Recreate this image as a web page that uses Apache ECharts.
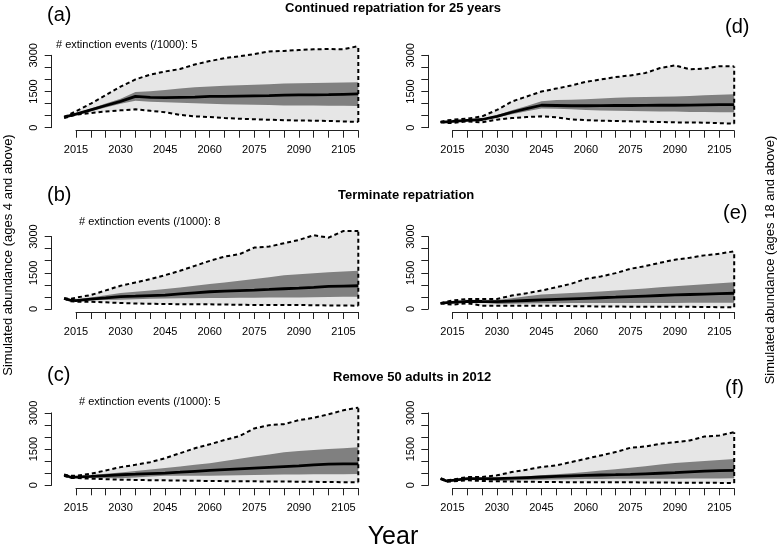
<!DOCTYPE html>
<html><head><meta charset="utf-8">
<script src="https://cdn.jsdelivr.net/npm/echarts@6/dist/echarts.min.js"></script>
<style>html,body{margin:0;padding:0;background:#fff}#c{width:777px;height:552px}</style>
</head><body><div id="c"></div>
<script>
// ---------- data ----------
const years = [2011,2013,2015,2020,2025,2030,2035,2040,2045,2050,2055,2060,2065,2070,2075,2080,2085,2090,2095,2100,2105,2110];
const xTickStart = 2015, xTickEnd = 2110, xTickStep = 5, xLabelStep = 15, xLabelLast = 2105;
const yTickMax = 3000, yTickStep = 500, yLabelStep = 1500;

// (a) Continued repatriation, ages 4+
const aMedian  = [440,500,560,740,920,1090,1300,1260,1250,1260,1270,1300,1300,1310,1320,1330,1350,1360,1360,1370,1385,1400];
const aInnerHi = [460,530,600,800,1000,1200,1480,1510,1560,1620,1680,1710,1740,1760,1780,1800,1830,1840,1850,1860,1870,1880];
const aInnerLo = [420,470,520,680,840,990,1120,1080,1050,1030,1010,990,975,960,950,940,925,920,915,910,905,900];
const aOuterHi = [444,560,680,1000,1350,1700,2000,2200,2330,2430,2620,2760,2880,2960,3050,3160,3180,3220,3250,3260,3250,3380];
const aOuterLo = [403,470,540,610,670,720,760,700,640,530,470,440,400,370,350,330,310,300,290,280,260,240];
// (b) Terminate repatriation, ages 4+
const bMedian  = [440,370,350,413,460,509,530,555,578,625,670,715,740,762,784,810,840,866,900,935,950,963];
const bInnerHi = [450,390,400,480,570,660,715,770,825,890,960,1031,1100,1170,1238,1320,1403,1440,1486,1520,1550,1582];
const bInnerLo = [430,350,330,360,375,385,405,425,440,445,450,454,460,465,468,472,476,481,490,498,505,509];
const bOuterHi = [440,420,470,578,770,963,1100,1238,1403,1582,1788,1995,2173,2270,2545,2586,2724,2861,3054,2957,3232,3232];
const bOuterLo = [440,320,303,303,275,248,230,215,206,200,196,193,185,175,165,165,165,165,155,148,143,138];
// (c) Remove 50 adults in 2012, ages 4+
const cMedian  = [438,342,342,370,405,438,460,485,507,543,580,616,648,680,712,744,776,808,843,877,884,890];
const cInnerHi = [445,360,370,420,475,534,590,650,712,780,850,918,1010,1100,1192,1280,1370,1420,1466,1500,1540,1575];
const cInnerLo = [430,325,320,310,300,288,325,360,397,397,397,397,406,415,425,434,443,452,456,460,463,466];
const cOuterHi = [438,390,397,479,616,753,849,959,1123,1329,1534,1699,1877,2041,2356,2493,2534,2699,2795,2945,3110,3219];
const cOuterLo = [397,301,301,274,255,233,222,212,205,196,187,178,173,168,164,160,155,151,144,137,130,123];
// (d) Continued repatriation, ages 18+
const dMedian  = [230,245,260,300,340,470,640,790,930,920,910,910,915,920,920,925,930,930,935,945,955,960];
const dInnerHi = [240,255,275,320,370,520,720,900,1100,1150,1160,1180,1210,1240,1260,1270,1280,1290,1310,1340,1370,1390];
const dInnerLo = [220,235,245,280,310,420,560,680,800,790,760,736,715,700,694,680,670,667,655,648,642,639];
const dOuterHi = [236,300,330,375,472,736,1083,1292,1500,1620,1750,1900,2000,2097,2167,2264,2472,2580,2420,2450,2550,2540];
const dOuterLo = [236,200,194,264,222,333,400,444,470,430,347,310,292,275,264,250,235,222,215,208,190,167];
// (e) Terminate repatriation, ages 18+
const eMedian  = [236,260,278,320,310,306,330,352,375,398,421,444,467,490,514,537,560,583,600,618,635,653];
const eInnerHi = [240,265,285,330,340,375,450,525,597,630,662,694,730,768,806,852,898,944,985,1027,1069,1111];
const eInnerLo = [232,250,265,300,260,208,217,226,236,241,245,250,250,250,250,250,250,250,254,257,261,264];
const eOuterHi = [236,300,350,417,417,417,556,653,764,903,1042,1250,1347,1486,1667,1778,1917,2042,2125,2222,2292,2389];
const eOuterLo = [236,200,180,236,139,139,139,139,139,130,120,111,105,100,97,97,97,97,90,83,76,69];
// (f) Remove 50 adults in 2012, ages 18+
const fMedian  = [275,179,206,275,275,275,298,321,344,367,390,413,427,440,454,477,500,523,557,591,605,619];
const fInnerHi = [280,190,220,290,300,316,348,380,413,458,504,550,610,670,729,793,858,922,963,1004,1046,1087];
const fInnerLo = [270,170,195,255,230,179,197,215,234,243,252,261,265,268,271,273,274,275,278,282,285,289];
const fOuterHi = [275,200,234,344,344,413,550,646,757,825,963,1100,1238,1376,1554,1609,1719,1788,1857,2022,2063,2201];
const fOuterLo = [275,150,165,206,179,165,156,147,138,133,129,124,124,124,124,119,115,110,107,103,100,96];

const rowTitles = ['Continued repatriation for 25 years','Terminate repatriation','Remove 50 adults in 2012'];
const panelTags = ['(a)','(b)','(c)','(d)','(e)','(f)'];
const extinctionText = ['# extinction events (/1000): 5','# extinction events (/1000): 8','# extinction events (/1000): 5'];
const leftYTitle = 'Simulated abundance (ages 4 and above)';
const rightYTitle = 'Simulated abundance (ages 18 and above)';
const xTitle = 'Year';

const panels = [
  {col:0,row:0,med:aMedian,ih:aInnerHi,il:aInnerLo,oh:aOuterHi,ol:aOuterLo},
  {col:0,row:1,med:bMedian,ih:bInnerHi,il:bInnerLo,oh:bOuterHi,ol:bOuterLo},
  {col:0,row:2,med:cMedian,ih:cInnerHi,il:cInnerLo,oh:cOuterHi,ol:cOuterLo},
  {col:1,row:0,med:dMedian,ih:dInnerHi,il:dInnerLo,oh:dOuterHi,ol:dOuterLo},
  {col:1,row:1,med:eMedian,ih:eInnerHi,il:eInnerLo,oh:eOuterHi,ol:eOuterLo},
  {col:1,row:2,med:fMedian,ih:fInnerHi,il:fInnerLo,oh:fOuterHi,ol:fOuterLo}
];

// ---------- layout ----------
const colX2015 = [76, 452.5], colX2110 = [358.3, 734.2], colYAxisX = [51.7, 428.3];
const rowY0 = [127.7, 309, 485.3];
const kY = 72.4 / 3000;
const yDataMax = 3500;
const FONT = '"Liberation Sans", Arial, Helvetica, sans-serif';

const grids = [], xAxes = [], yAxes = [], series = [];
const pairs = (arr) => years.map((y,i)=>[y,arr[i]]);
const dash = {type:[4,3], width:2, color:'#000'};

function bandSeries(g, lo, hi, color, z) {
  return {type:'custom', xAxisIndex:g, yAxisIndex:g, silent:true, animation:false, clip:false, z,
    data: years.map((y,i)=>[y, lo[i], hi[i]]),
    encode:{x:0, y:[1,2]},
    renderItem: (params, api) => {
      if (params.dataIndex !== 0) return null;
      const pts = [];
      for (let i = 0; i < years.length; i++) pts.push(api.coord([years[i], hi[i]]));
      for (let i = years.length - 1; i >= 0; i--) pts.push(api.coord([years[i], lo[i]]));
      return {type:'polygon', shape:{points:pts}, style:{fill:color, stroke:null}};
    }};
}

panels.forEach((p, i) => {
  const x15 = colX2015[p.col], x110 = colX2110[p.col];
  const pxYr = (x110 - x15) / (xTickEnd - xTickStart);
  const y0 = rowY0[p.row];
  const g0 = grids.length;
  // data grid
  grids.push({left: x15 - (xTickStart - years[0]) * pxYr, width: (xTickEnd - years[0]) * pxYr,
              top: y0 - yDataMax * kY, height: yDataMax * kY});
  xAxes.push({gridIndex:g0, type:'value', min:years[0], max:xTickEnd, show:false});
  yAxes.push({gridIndex:g0, type:'value', min:0, max:yDataMax, show:false});
  // x-axis grid
  grids.push({left: x15, width: x110 - x15, top: y0 + 3 - 10, height: 10});
  xAxes.push({gridIndex:g0+1, type:'value', min:xTickStart, max:xTickEnd, interval:xTickStep,
    axisLine:{show:true, onZero:false, lineStyle:{color:'#222', width:1}},
    axisTick:{show:true, length:7, lineStyle:{color:'#222', width:1}},
    splitLine:{show:false},
    axisLabel:{margin:14, color:'#000', fontSize:11, fontFamily:FONT, showMinLabel:true, showMaxLabel:true,
      formatter:(v)=> ((v - xTickStart) % xLabelStep === 0 && v <= xLabelLast) ? String(v) : ''}});
  yAxes.push({gridIndex:g0+1, type:'value', min:0, max:1, show:false});
  // y-axis grid
  grids.push({left: colYAxisX[p.col], width: 10, top: y0 - yTickMax * kY, height: yTickMax * kY});
  xAxes.push({gridIndex:g0+2, type:'value', min:0, max:1, show:false});
  yAxes.push({gridIndex:g0+2, type:'value', min:0, max:yTickMax, interval:yTickStep,
    axisLine:{show:true, onZero:false, lineStyle:{color:'#222', width:1}},
    axisTick:{show:true, length:7, lineStyle:{color:'#222', width:1}},
    splitLine:{show:false},
    axisLabel:{rotate:90, margin:12, color:'#000', fontSize:11, fontFamily:FONT, showMinLabel:true, showMaxLabel:true,
      formatter:(v)=> (v % yLabelStep === 0) ? String(v) : ''}});

  const common = {xAxisIndex:g0, yAxisIndex:g0, type:'line', symbol:'none', silent:true, animation:false, clip:false};
  series.push(bandSeries(g0, p.ol, p.oh, '#e6e6e6', 1));
  series.push(bandSeries(g0, p.il, p.ih, '#808080', 2));
  series.push(Object.assign({}, common, {data:pairs(p.oh), lineStyle:dash, z:3}));
  series.push(Object.assign({}, common, {data:pairs(p.ol), lineStyle:dash, z:3}));
  const last = years.length - 1;
  series.push(Object.assign({}, common, {data:[[years[last], p.ol[last]],[years[last], p.oh[last]]], lineStyle:dash, z:3}));
  series.push(Object.assign({}, common, {data:pairs(p.med), lineStyle:{color:'#000', width:2.8}, z:4}));
});

// ---------- texts ----------
const graphic = [];
const txt = (text, x, y, font, align) => ({type:'text', x, y, silent:true,
  style:{text, font, fill:'#000', align: align || 'left', verticalAlign:'middle'}});
const titleLeft = [285, 338, 333], titleY = [8, 195, 377];
rowTitles.forEach((t,r)=>graphic.push(txt(t, titleLeft[r], titleY[r], 'bold 13px ' + FONT)));
const tagPos = [[47,15],[47,195],[47,375],[725,27],[723,213],[725,388]];
panelTags.forEach((t,i)=>graphic.push(txt(t, tagPos[i][0], tagPos[i][1], '20px ' + FONT)));
const extPos = [[56,45],[79,222],[79,402]];
extinctionText.forEach((t,i)=>graphic.push(txt(t, extPos[i][0], extPos[i][1], '11px ' + FONT)));
graphic.push(txt(xTitle, 393, 537, '25px ' + FONT, 'center'));
graphic.push({type:'text', x:8, y:255, rotation:Math.PI/2, silent:true,
  style:{text:leftYTitle, font:'13px ' + FONT, fill:'#000', align:'center', verticalAlign:'middle'}});
graphic.push({type:'text', x:770, y:260, rotation:Math.PI/2, silent:true,
  style:{text:rightYTitle, font:'13px ' + FONT, fill:'#000', align:'center', verticalAlign:'middle'}});

const chart = echarts.init(document.getElementById('c'), null, {renderer:'canvas'});
chart.setOption({animation:false, backgroundColor:'#fff', grid:grids, xAxis:xAxes, yAxis:yAxes, series, graphic});
</script></body></html>
